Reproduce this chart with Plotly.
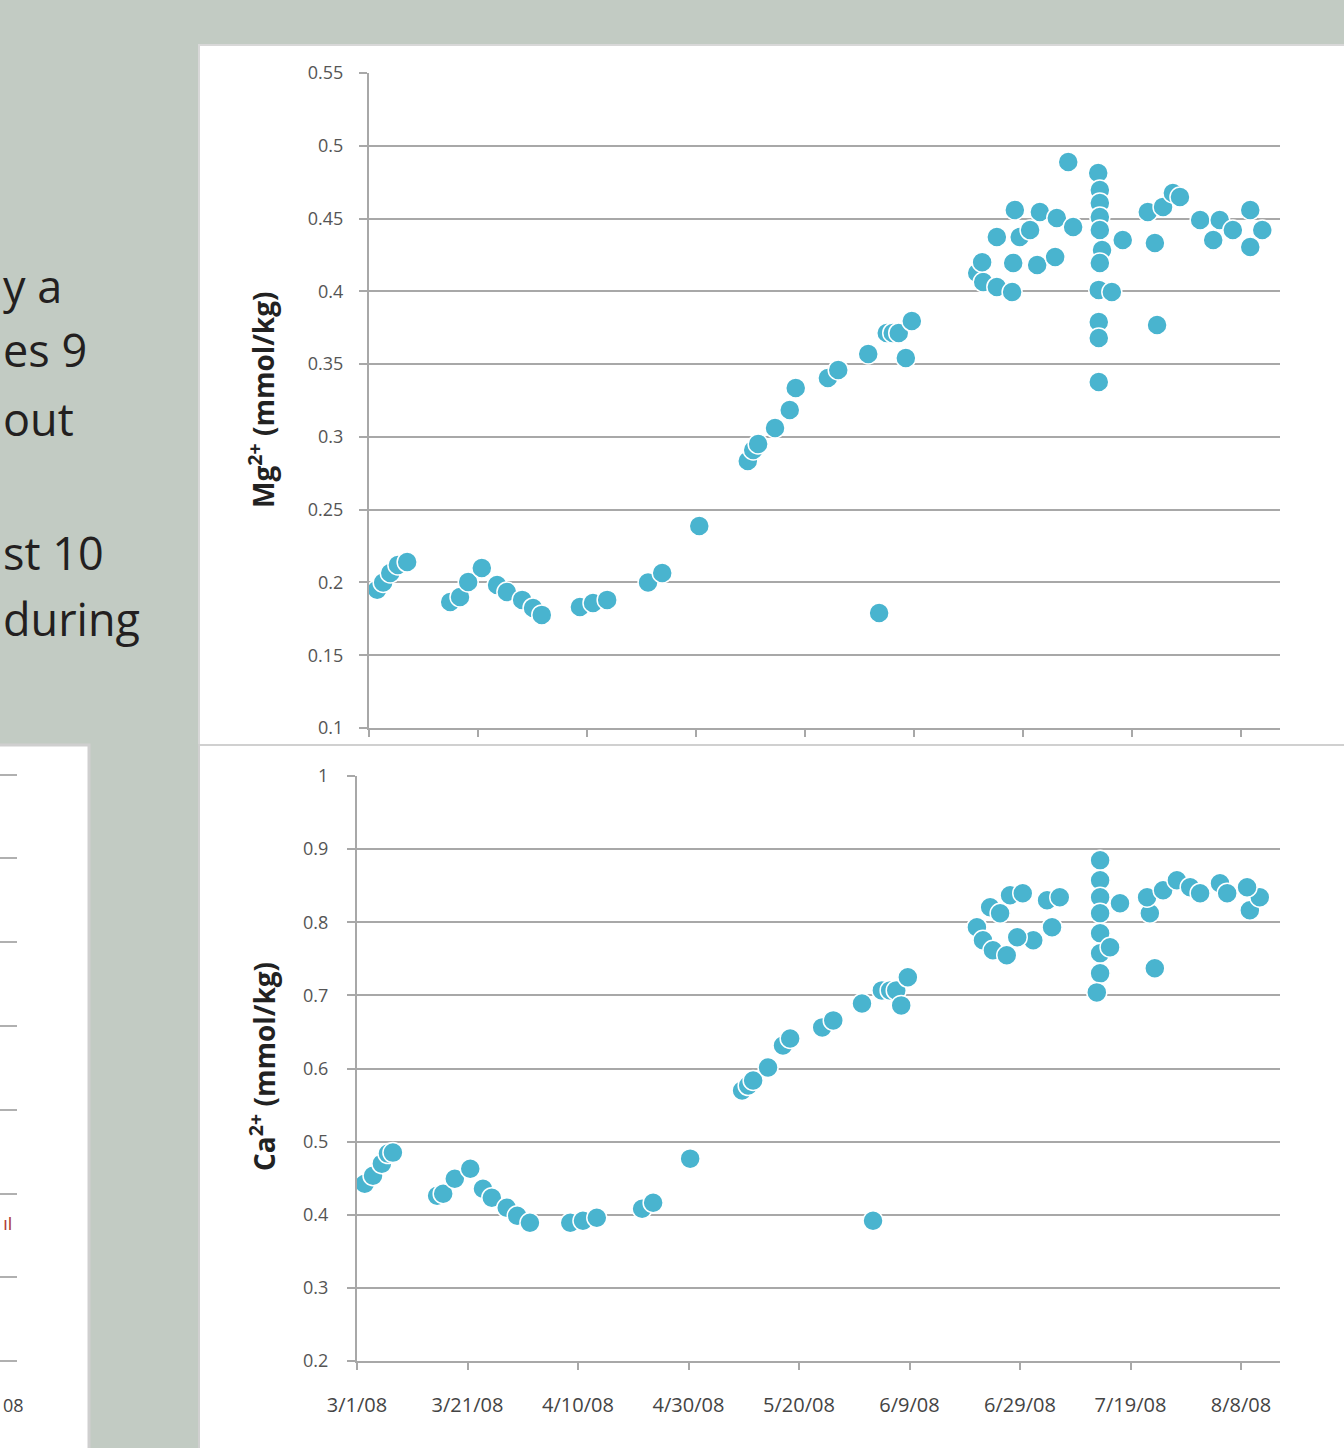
import pandas as pd
import plotly.graph_objects as go

START = pd.Timestamp("2008-03-01")

# ---- Mg2+ series (days after 3/1/08, mmol/kg) ----
mg_days = [1.5, 2.6, 3.9, 5.3, 7.0,
           14.9, 16.7, 18.2, 20.7, 23.5, 25.3, 28.1, 30.1, 31.7,
           38.7, 41.1, 43.7, 51.2, 53.8, 60.6,
           69.5, 70.5, 71.4, 74.5, 77.2, 78.3, 84.2, 86.1, 91.6, 93.6,
           95.0, 96.1, 97.2, 98.5, 99.6,
           111.6, 112.7, 115.2, 118.0, 112.5, 115.2, 118.5, 119.4, 118.2,
           122.6, 125.9, 123.1, 126.2, 129.2, 121.3, 128.3,
           133.8, 134.1, 134.1, 134.1, 134.1, 134.5, 134.1, 133.9, 136.3,
           133.9, 133.9, 133.9, 138.3, 144.6,
           142.9, 144.2, 145.7, 147.5, 148.8, 152.5, 154.9, 156.1, 158.5,
           161.7, 163.9, 161.7]
mg_vals = [0.195, 0.200, 0.2065, 0.212, 0.214,
           0.1866, 0.190, 0.2003, 0.2099, 0.1983, 0.1934, 0.188, 0.1825, 0.1777,
           0.1831, 0.1859, 0.188, 0.200, 0.2065, 0.2388,
           0.2834, 0.291, 0.2951, 0.3061, 0.3185, 0.3336, 0.3405, 0.346, 0.357, 0.179,
           0.3714, 0.3714, 0.3714, 0.3542, 0.3796,
           0.4126, 0.4064, 0.403, 0.3995, 0.420, 0.4373, 0.4559, 0.4373, 0.4195,
           0.4181, 0.4236, 0.4545, 0.4504, 0.4442, 0.4421, 0.4889,
           0.4813, 0.4696, 0.4607, 0.4511, 0.4421, 0.4284, 0.4195, 0.401, 0.3995,
           0.3789, 0.3679, 0.3377, 0.4353, 0.3769,
           0.4545, 0.4332, 0.458, 0.4676, 0.4648, 0.449, 0.4353, 0.449, 0.4421,
           0.4559, 0.4421, 0.4305]

# ---- Ca2+ series (days after 3/1/08, mmol/kg) ----
ca_days = [1.4, 2.9, 4.5, 5.6, 6.5,
           14.5, 15.6, 17.7, 20.5, 22.8, 24.4, 27.1, 29.0, 31.3,
           38.6, 40.9, 43.4, 51.6, 53.6, 60.3,
           69.7, 70.8, 71.7, 74.4, 77.1, 78.4, 84.2, 86.2, 91.4, 93.4,
           95.0, 96.5, 97.6, 98.5, 99.7,
           112.2, 113.3, 115.1, 117.6, 114.6, 116.4, 118.2, 120.5, 122.4,
           125.8, 119.5, 124.9, 127.2,
           134.5, 134.5, 134.5, 134.5, 134.5, 134.5, 134.5, 133.9, 136.3,
           138.1, 144.4, 143.5, 143.0, 145.9, 148.4, 150.8, 152.6, 156.2,
           157.5, 161.6, 163.4, 161.1]
ca_vals = [0.4425, 0.4534, 0.4699, 0.4836, 0.485,
           0.426, 0.4288, 0.4493, 0.463, 0.4356, 0.4233, 0.4096, 0.3986, 0.389,
           0.389, 0.3918, 0.3959, 0.4082, 0.4164, 0.4767,
           0.5699, 0.5767, 0.5836, 0.6014, 0.6315, 0.6411, 0.6562, 0.6658, 0.689, 0.3918,
           0.7068, 0.7068, 0.7068, 0.6863, 0.7247,
           0.7932, 0.7753, 0.7616, 0.7548, 0.8205, 0.8123, 0.837, 0.8397, 0.7753,
           0.7932, 0.7795, 0.8301, 0.8342,
           0.8849, 0.8575, 0.8342, 0.8123, 0.7849, 0.7575, 0.7301, 0.7041, 0.7658,
           0.826, 0.737, 0.8123, 0.8342, 0.8438, 0.8575, 0.8479, 0.8397, 0.8534,
           0.8397, 0.8164, 0.8342, 0.8479]

x_tick_days = [0, 20, 40, 60, 80, 100, 120, 140, 160]
x_tick_labels = ["3/1/08", "3/21/08", "4/10/08", "4/30/08", "5/20/08",
                 "6/9/08", "6/29/08", "7/19/08", "8/8/08"]
mg_ticks = [0.1, 0.15, 0.2, 0.25, 0.3, 0.35, 0.4, 0.45, 0.5, 0.55]
mg_tick_labels = ["0.1", "0.15", "0.2", "0.25", "0.3", "0.35", "0.4", "0.45", "0.5", "0.55"]
ca_ticks = [0.2, 0.3, 0.4, 0.5, 0.6, 0.7, 0.8, 0.9, 1.0]
ca_tick_labels = ["0.2", "0.3", "0.4", "0.5", "0.6", "0.7", "0.8", "0.9", "1"]

# visible fragments of the slide text at the left edge (text, left x, centre y)
side_text = [("y a", 1, 285), ("es 9", 1, 350), ("out", 1, 418),
             ("st 10", 1, 552), ("during", 1, 618)]

W, H = 1344, 1448
def px(x):
    return x / W
def py(y):
    return 1 - y / H

def to_dates(days):
    return [START + pd.Timedelta(days=d) for d in days]

MARK = "#49B4CF"
GRID = "#A8A8A8"
TICKFONT = dict(family="Open Sans, Liberation Sans, sans-serif", size=18, color="#555555")

fig = go.Figure()
fig.add_trace(go.Scatter(x=to_dates(mg_days), y=mg_vals, mode="markers",
                         marker=dict(size=20, color=MARK, line=dict(color="white", width=1.5)),
                         xaxis="x", yaxis="y", showlegend=False))
fig.add_trace(go.Scatter(x=to_dates(ca_days), y=ca_vals, mode="markers",
                         marker=dict(size=20, color=MARK, line=dict(color="white", width=1.5)),
                         xaxis="x2", yaxis="y2", showlegend=False))

tickvals_dates = to_dates(x_tick_days)

common_x = dict(type="date", showgrid=False, showline=True, linecolor=GRID, linewidth=2,
                ticks="outside", ticklen=7, tickcolor=GRID, tickwidth=2,
                tickvals=tickvals_dates, zeroline=False, automargin=False)
common_y = dict(showgrid=True, gridcolor=GRID, gridwidth=2, showline=True, linecolor=GRID,
                linewidth=2, ticks="outside", ticklen=8, tickcolor=GRID, tickwidth=2,
                zeroline=False, tickfont=TICKFONT, automargin=False)

fig.update_layout(
    width=W, height=H, margin=dict(l=0, r=0, t=0, b=0, pad=0, autoexpand=False),
    paper_bgcolor="#C2CBC3", plot_bgcolor="white",
    xaxis=dict(common_x, domain=[px(369), px(1280)],
               range=[START, START + pd.Timedelta(days=(1280 - 369) / 5.45)],
               showticklabels=False, anchor="y"),
    yaxis=dict(common_y, domain=[py(728), py(73)], range=[0.1, 0.55],
               tickvals=mg_ticks, ticktext=mg_tick_labels, anchor="x",
               ticklabelstandoff=12),
    xaxis2=dict(common_x, domain=[px(357), px(1280)],
                range=[START, START + pd.Timedelta(days=(1280 - 357) / 5.525)],
                ticktext=x_tick_labels, anchor="y2",
                tickfont=dict(family="Open Sans, sans-serif",
                              size=20, color="#444444"),
                ticklabelstandoff=18),
    yaxis2=dict(common_y, domain=[py(1361), py(776)], range=[0.2, 1.0],
                tickvals=ca_ticks, ticktext=ca_tick_labels, anchor="x2",
                ticklabelstandoff=15),
)

shapes = [
    dict(type="rect", xref="paper", yref="paper", x0=px(199), x1=1.01, y0=py(745), y1=py(45),
         fillcolor="white", line=dict(color="#D8D8D8", width=2), layer="below"),
    dict(type="rect", xref="paper", yref="paper", x0=px(199), x1=1.01, y0=-0.01, y1=py(745),
         fillcolor="white", line=dict(color="#D0D0D0", width=2), layer="below"),
    dict(type="rect", xref="paper", yref="paper", x0=-0.01, x1=px(89), y0=-0.01, y1=py(745),
         fillcolor="white", line=dict(color="#CFCFCF", width=3), layer="below"),
]
for gy in [775, 858, 942, 1026, 1110, 1194, 1277, 1361]:
    shapes.append(dict(type="line", xref="paper", yref="paper", x0=0, x1=px(17),
                       y0=py(gy), y1=py(gy), line=dict(color="#B0B0B0", width=2),
                       layer="below"))
fig.update_layout(shapes=shapes)

ann = []
for txt, xl, yc in side_text:
    ann.append(dict(text=txt, xref="paper", yref="paper", x=px(xl), y=py(yc),
                    xanchor="left", yanchor="middle", showarrow=False,
                    font=dict(family="Open Sans, Noto Sans, sans-serif", size=45, color="#231F20")))
ann.append(dict(text="ıl", xref="paper", yref="paper", x=px(1), y=py(1224),
                xanchor="left", yanchor="middle", showarrow=False,
                font=dict(family="Liberation Sans, sans-serif", size=18, color="#B04040")))
ann.append(dict(text="08", xref="paper", yref="paper", x=px(1), y=py(1405),
                xanchor="left", yanchor="middle", showarrow=False,
                font=dict(family="Open Sans, sans-serif", size=18, color="#444444")))
ann.append(dict(text="<b>Mg<sup>2+</sup> (mmol/kg)</b>", xref="paper", yref="paper",
                x=px(262), y=py(400), textangle=-90, showarrow=False,
                xanchor="center", yanchor="middle",
                font=dict(family="Open Sans, sans-serif", size=28, color="#222222")))
ann.append(dict(text="<b>Ca<sup>2+</sup> (mmol/kg)</b>", xref="paper", yref="paper",
                x=px(262), y=py(1067), textangle=-90, showarrow=False,
                xanchor="center", yanchor="middle",
                font=dict(family="Open Sans, sans-serif", size=28, color="#222222")))
fig.update_layout(annotations=ann)

fig.write_html("out.html", config={"displayModeBar": False},
               post_script="document.body.style.margin='0';document.body.style.padding='0';")
